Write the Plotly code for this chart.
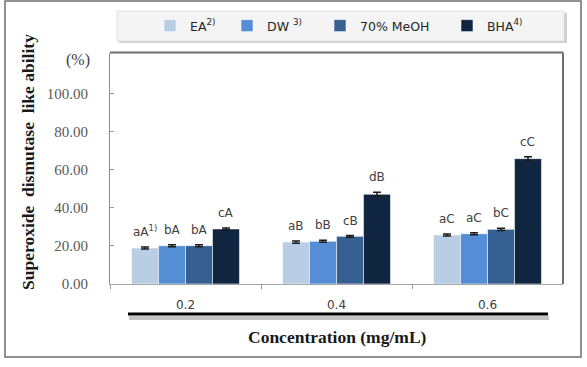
import plotly.graph_objects as go

W, H = 587, 367

categories = ["0.2", "0.4", "0.6"]
series_names = ["EA<sup>2)</sup>", "DW <sup>3)</sup>", "70% MeOH", "BHA<sup>4)</sup>"]
ea = [18.9, 22.0, 25.7]
dw = [20.1, 22.4, 26.4]
meoh = [20.1, 25.0, 28.7]
bha = [28.9, 47.1, 65.8]
ea_err = [0.5, 0.6, 0.5]
dw_err = [0.5, 0.5, 0.5]
meoh_err = [0.5, 0.4, 0.6]
bha_err = [0.5, 1.0, 1.0]
ea_lbl = ["aA<sup>1)</sup>", "aB", "aC"]
dw_lbl = ["bA", "bB", "aC"]
meoh_lbl = ["bA", "cB", "bC"]
bha_lbl = ["cA", "dB", "cC"]
tick_vals = [0, 20, 40, 60, 80, 100]

colors = ["#b9cde5", "#558ed5", "#376092", "#10253f"]
values = [ea, dw, meoh, bha]
errors = [ea_err, dw_err, meoh_err, bha_err]
labels = [ea_lbl, dw_lbl, meoh_lbl, bha_lbl]
legend_ids = ["legend", "legend2", "legend3", "legend4"]
legend_left_px = [150, 227, 320, 447]

bargap = 0.285
fig = go.Figure()
for name, v, e, c, lg in zip(series_names, values, errors, colors, legend_ids):
    fig.add_trace(go.Bar(
        x=categories, y=v, name=name, legend=lg,
        marker=dict(color=c, line=dict(color="rgba(255,255,255,0.7)", width=0.8)),
        error_y=dict(type="data", array=e, color="#1a1a1a", thickness=1.5, width=4),
    ))

# bar labels
n = len(values)
w = (1 - bargap) / n
for j, (v, e, lb) in enumerate(zip(values, errors, labels)):
    for i in range(len(categories)):
        fig.add_annotation(
            x=i + (j - (n - 1) / 2) * w, y=v[i] + e[i], xref="x", yref="y",
            text=lb[i], showarrow=False, yanchor="bottom", yshift=6,
            font=dict(family="DejaVu Sans", size=12, color="#404040"),
        )

x0, x1 = 110 / W, 563 / W
y0, y1 = 1 - 284 / H, 1 - 52.5 / H

legend_common = dict(orientation="h", yanchor="middle", xanchor="left", y=1 - 26 / H,
                     bgcolor="rgba(0,0,0,0)", itemwidth=30, borderwidth=0,
                     font=dict(family="DejaVu Sans", size=12.5, color="#262626"),
                     itemclick=False, itemdoubleclick=False)
legends = {lg: dict(x=lx / W, **legend_common) for lg, lx in zip(legend_ids, legend_left_px)}

fig.update_layout(
    width=W, height=H, margin=dict(l=0, r=0, t=0, b=0, autoexpand=False),
    paper_bgcolor="white", plot_bgcolor="white",
    barmode="group", bargap=bargap, bargroupgap=0,
    showlegend=True,
    xaxis=dict(domain=[x0, x1], type="category", tickson="boundaries", ticks="outside",
               ticklen=4, tickcolor="#999", showline=True, linecolor="#a6a6a6", linewidth=1.2,
               tickfont=dict(family="DejaVu Sans", size=12, color="#404040"), automargin=False,
               ticklabelstandoff=9, showgrid=False, range=[-0.5, 2.5]),
    yaxis=dict(domain=[y0, y1], range=[0, 121.5], tickvals=tick_vals, tickformat=".2f",
               ticks="inside", ticklen=4, tickcolor="#999", showline=True, linecolor="#8c8c8c",
               linewidth=1.2, showgrid=False, zeroline=False, automargin=False,
               tickfont=dict(family="Liberation Serif", size=15, color="#595959"),
               ticklabelstandoff=18),
    **legends,
)

shapes = [
    # outer frame
    dict(type="rect", xref="paper", yref="paper", x0=5 / W, x1=581 / W, y0=1 - 357 / H, y1=1 - 1 / H,
         line=dict(color="#6e6e6e", width=1.5), layer="below"),
    # legend box shadow + box
    dict(type="rect", xref="paper", yref="paper", x0=119 / W, x1=567 / W, y0=1 - 43 / H, y1=1 - 13 / H,
         line=dict(width=0), fillcolor="#d0d0d0", layer="below"),
    dict(type="rect", xref="paper", yref="paper", x0=117 / W, x1=564 / W, y0=1 - 41 / H, y1=1 - 11 / H,
         line=dict(color="#e0e0e0", width=1), fillcolor="#f4f4f4", layer="below"),
    # plot area top/right frame
    dict(type="line", xref="x domain", yref="y domain", x0=0, x1=1, y0=1, y1=1,
         line=dict(color="#6e6e6e", width=2)),
    dict(type="line", xref="x domain", yref="y domain", x0=1, x1=1, y0=0, y1=1,
         line=dict(color="#6e6e6e", width=2)),
    # thick underline with shadow
    dict(type="line", xref="paper", yref="paper", x0=129 / W, x1=549 / W, y0=1 - 318 / H, y1=1 - 318 / H,
         line=dict(color="#c4c4c4", width=4)),
    dict(type="line", xref="paper", yref="paper", x0=128 / W, x1=548 / W, y0=1 - 314 / H, y1=1 - 314 / H,
         line=dict(color="#000000", width=3)),
]
fig.update_layout(shapes=shapes)

fig.add_annotation(x=337 / W, y=1 - 337 / H, xref="paper", yref="paper", showarrow=False,
                   xanchor="center", yanchor="middle",
                   text="<b>Concentration (mg/mL)</b>",
                   font=dict(family="Liberation Serif", size=17.5, color="#1a1a1a"))
fig.add_annotation(x=28 / W, y=1 - 162 / H, xref="paper", yref="paper", showarrow=False,
                   xanchor="center", yanchor="middle",
                   text="<b>Superoxide  dismutase  like ability</b>", textangle=-90,
                   font=dict(family="Liberation Serif", size=17.5, color="#1a1a1a"))
fig.add_annotation(x=78 / W, y=1 - 60 / H, xref="paper", yref="paper", showarrow=False,
                   xanchor="center", yanchor="middle",
                   text="(%)", font=dict(family="Liberation Serif", size=16, color="#404040"))

fig.write_html("out.html")
